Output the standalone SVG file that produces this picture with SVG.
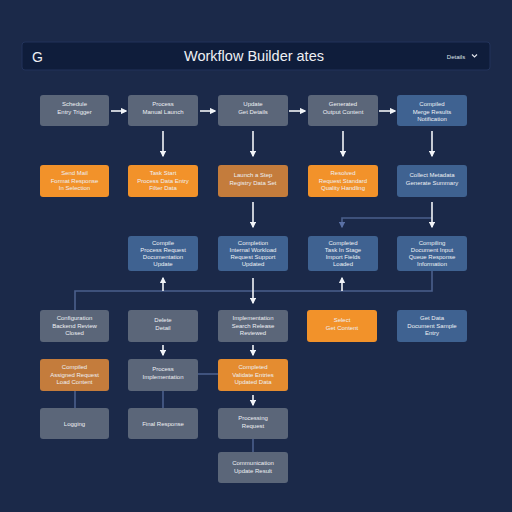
<svg xmlns="http://www.w3.org/2000/svg" width="512" height="512" viewBox="0 0 512 512">
<style>
.bg{fill:#1b2949}
.gray{fill:#5b6679}
.blue{fill:#3f6291}
.orange{fill:#f2922a}
.brown{fill:#c47c3c}
.lbl{font-family:"Liberation Sans",Arial,sans-serif;font-size:6px;fill:#eef0f4;text-anchor:middle}
.arr{stroke:#f2f4f8;stroke-width:1.6;fill:none}
.line{stroke:#4b5f8c;stroke-width:1.6;fill:none}
</style>
<defs>
<marker id="ah" viewBox="0 0 10 10" refX="8" refY="5" markerWidth="4" markerHeight="4" orient="auto">
<path d="M0,0 L10,5 L0,10 z" fill="#f2f4f8"/>
</marker>
<marker id="ahb" viewBox="0 0 10 10" refX="8" refY="5" markerWidth="4" markerHeight="4" orient="auto">
<path d="M0,0 L10,5 L0,10 z" fill="#5a70a4"/>
</marker>
</defs>
<rect class="bg" x="0" y="0" width="512" height="512"/>
<g id="header">
<rect x="22" y="42" width="468" height="28" rx="3" fill="#0f1d3b" stroke="#22335a" stroke-width="1"/>
<text x="32" y="62" font-family="'Liberation Sans',Arial,sans-serif" font-size="14" fill="#eef0f4">G</text>
<text x="254" y="61" font-family="'Liberation Sans',Arial,sans-serif" font-size="14.5" fill="#eef0f4" text-anchor="middle">Workflow Builder ates</text>
<text x="456" y="58.5" font-family="'Liberation Sans',Arial,sans-serif" font-size="6" fill="#dfe3ea" text-anchor="middle">Details</text>
<polyline points="472,54.5 474.5,57 477,54.5" stroke="#dfe3ea" stroke-width="1.2" fill="none"/>
</g>
<g id="connectors">
<line class="arr" x1="111" y1="111" x2="126" y2="111" marker-end="url(#ah)"/>
<line class="arr" x1="200" y1="111" x2="215" y2="111" marker-end="url(#ah)"/>
<line class="arr" x1="289" y1="111" x2="305" y2="111" marker-end="url(#ah)"/>
<line class="arr" x1="379" y1="111" x2="395" y2="111" marker-end="url(#ah)"/>
<line class="arr" x1="163" y1="131" x2="163" y2="156" marker-end="url(#ah)"/>
<line class="arr" x1="253" y1="131" x2="253" y2="156" marker-end="url(#ah)"/>
<line class="arr" x1="343" y1="131" x2="343" y2="156" marker-end="url(#ah)"/>
<line class="arr" x1="432" y1="131" x2="432" y2="156" marker-end="url(#ah)"/>
<line class="arr" x1="253" y1="202" x2="253" y2="227" marker-end="url(#ah)"/>
<polyline class="line" points="432,218 342,218 342,227" marker-end="url(#ahb)"/>
<line class="arr" x1="432" y1="202" x2="432" y2="227" marker-end="url(#ah)"/>
<polyline class="line" points="432,271 432,291 75,291 75,310"/>
<line class="arr" x1="163" y1="291" x2="163" y2="278" marker-end="url(#ah)"/>
<line class="arr" x1="342" y1="291" x2="342" y2="278" marker-end="url(#ah)"/>
<line class="arr" x1="253" y1="278" x2="253" y2="303" marker-end="url(#ah)"/>
<line class="arr" x1="163" y1="345" x2="163" y2="355" marker-end="url(#ah)"/>
<line class="arr" x1="253" y1="345" x2="253" y2="355" marker-end="url(#ah)"/>
<line class="line" x1="198" y1="374" x2="218" y2="374"/>
<line class="line" x1="75" y1="391" x2="75" y2="408"/>
<line class="line" x1="163" y1="391" x2="163" y2="408"/>
<line class="arr" x1="253" y1="395" x2="253" y2="405" marker-end="url(#ah)"/>
<line class="line" x1="253" y1="439" x2="253" y2="452"/>
</g>
<g id="n1-1"><rect class="gray" x="40" y="95" width="69" height="31" rx="3"/><text class="lbl" x="74.5" y="106">Schedule</text><text class="lbl" x="74.5" y="114">Entry Trigger</text></g>
<g id="n1-2"><rect class="gray" x="128" y="95" width="70" height="31" rx="3"/><text class="lbl" x="163" y="106">Process</text><text class="lbl" x="163" y="114">Manual Launch</text></g>
<g id="n1-3"><rect class="gray" x="218" y="95" width="70" height="31" rx="3"/><text class="lbl" x="253" y="106">Update</text><text class="lbl" x="253" y="114">Get Details</text></g>
<g id="n1-4"><rect class="gray" x="308" y="95" width="70" height="31" rx="3"/><text class="lbl" x="343" y="106">Generated</text><text class="lbl" x="343" y="114">Output Content</text></g>
<g id="n1-5"><rect class="blue" x="397" y="95" width="70" height="31" rx="3"/><text class="lbl" x="432" y="106">Compiled</text><text class="lbl" x="432" y="114">Merge Results</text><text class="lbl" x="432" y="121">Notification</text></g>
<g id="n2-1"><rect class="orange" x="40" y="165" width="69" height="32" rx="3"/><text class="lbl" x="74.5" y="175">Send Mail</text><text class="lbl" x="74.5" y="182.5">Format Response</text><text class="lbl" x="74.5" y="190">In Selection</text></g>
<g id="n2-2"><rect class="orange" x="128" y="165" width="70" height="32" rx="3"/><text class="lbl" x="163" y="175">Task Start</text><text class="lbl" x="163" y="182.5">Process Data Entry</text><text class="lbl" x="163" y="190">Filter Data</text></g>
<g id="n2-3"><rect class="brown" x="218" y="165" width="70" height="32" rx="3"/><text class="lbl" x="253" y="177">Launch a Step</text><text class="lbl" x="253" y="184.5">Registry Data Set</text></g>
<g id="n2-4"><rect class="orange" x="308" y="165" width="70" height="32" rx="3"/><text class="lbl" x="343" y="175">Resolved</text><text class="lbl" x="343" y="182.5">Request Standard</text><text class="lbl" x="343" y="190">Quality Handling</text></g>
<g id="n2-5"><rect class="blue" x="397" y="165" width="70" height="32" rx="3"/><text class="lbl" x="432" y="177">Collect Metadata</text><text class="lbl" x="432" y="184.5">Generate Summary</text></g>
<g id="n3-2"><rect class="blue" x="128" y="236" width="70" height="35" rx="3"/><text class="lbl" x="163" y="245">Compile</text><text class="lbl" x="163" y="252">Process Request</text><text class="lbl" x="163" y="259">Documentation</text><text class="lbl" x="163" y="266">Update</text></g>
<g id="n3-3"><rect class="blue" x="218" y="236" width="70" height="35" rx="3"/><text class="lbl" x="253" y="245">Completion</text><text class="lbl" x="253" y="252">Internal Workload</text><text class="lbl" x="253" y="259">Request Support</text><text class="lbl" x="253" y="266">Updated</text></g>
<g id="n3-4"><rect class="blue" x="308" y="236" width="70" height="35" rx="3"/><text class="lbl" x="343" y="245">Completed</text><text class="lbl" x="343" y="252">Task In Stage</text><text class="lbl" x="343" y="259">Import Fields</text><text class="lbl" x="343" y="266">Loaded</text></g>
<g id="n3-5"><rect class="blue" x="397" y="236" width="70" height="35" rx="3"/><text class="lbl" x="432" y="245">Compiling</text><text class="lbl" x="432" y="252">Document Input</text><text class="lbl" x="432" y="259">Queue Response</text><text class="lbl" x="432" y="266">Information</text></g>
<g id="n4-1"><rect class="gray" x="40" y="310" width="69" height="32" rx="3"/><text class="lbl" x="74.5" y="320">Configuration</text><text class="lbl" x="74.5" y="327.5">Backend Review</text><text class="lbl" x="74.5" y="335">Closed</text></g>
<g id="n4-2"><rect class="gray" x="128" y="310" width="70" height="32" rx="3"/><text class="lbl" x="163" y="322">Delete</text><text class="lbl" x="163" y="329.5">Detail</text></g>
<g id="n4-3"><rect class="gray" x="218" y="310" width="70" height="32" rx="3"/><text class="lbl" x="253" y="320">Implementation</text><text class="lbl" x="253" y="327.5">Search Release</text><text class="lbl" x="253" y="335">Reviewed</text></g>
<g id="n4-4"><rect class="orange" x="307" y="310" width="70" height="32" rx="3"/><text class="lbl" x="342" y="322">Select</text><text class="lbl" x="342" y="329.5">Get Content</text></g>
<g id="n4-5"><rect class="blue" x="397" y="310" width="70" height="32" rx="3"/><text class="lbl" x="432" y="320">Get Data</text><text class="lbl" x="432" y="327.5">Document Sample</text><text class="lbl" x="432" y="335">Entry</text></g>
<g id="n5-1"><rect class="brown" x="40" y="359" width="69" height="32" rx="3"/><text class="lbl" x="74.5" y="369">Compiled</text><text class="lbl" x="74.5" y="376.5">Assigned Request</text><text class="lbl" x="74.5" y="384">Load Content</text></g>
<g id="n5-2"><rect class="gray" x="128" y="359" width="70" height="32" rx="3"/><text class="lbl" x="163" y="371">Process</text><text class="lbl" x="163" y="378.5">Implementation</text></g>
<g id="n5-3"><rect class="orange" x="218" y="359" width="70" height="32" rx="3" style="fill:#e48c30"/><text class="lbl" x="253" y="369">Completed</text><text class="lbl" x="253" y="376.5">Validate Entries</text><text class="lbl" x="253" y="384">Updated Data</text></g>
<g id="n6-1"><rect class="gray" x="40" y="408" width="69" height="31" rx="3"/><text class="lbl" x="74.5" y="426">Logging</text></g>
<g id="n6-2"><rect class="gray" x="128" y="408" width="70" height="31" rx="3"/><text class="lbl" x="163" y="426">Final Response</text></g>
<g id="n6-3"><rect class="gray" x="218" y="408" width="70" height="31" rx="3"/><text class="lbl" x="253" y="420">Processing</text><text class="lbl" x="253" y="427.5">Request</text></g>
<g id="n7-3"><rect class="gray" x="218" y="452" width="70" height="31" rx="3"/><text class="lbl" x="253" y="465">Communication</text><text class="lbl" x="253" y="472.5">Update Result</text></g>
</svg>
